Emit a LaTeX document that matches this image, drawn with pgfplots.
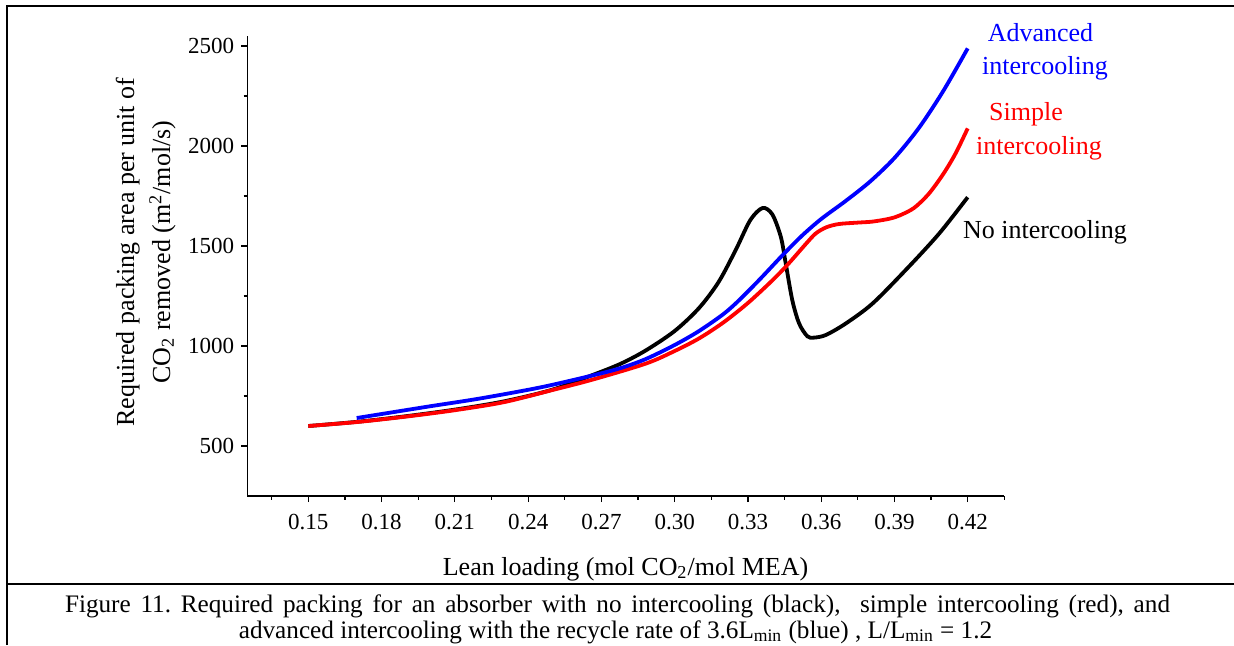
\documentclass[border=0pt]{standalone}
\usepackage{fontspec}
\setmainfont{Liberation Serif}
\usepackage{pgfplots}
\pgfplotsset{compat=1.18}
\frenchspacing

\begin{document}
\begin{tikzpicture}
\useasboundingbox (0,0) rectangle (617pt,322.5pt);
% frame and caption box
\draw[line width=1pt] (3.35pt,0) -- (3.35pt,319.5pt) -- (617pt,319.5pt);
\draw[line width=1pt] (3.35pt,30.75pt) -- (617pt,30.75pt);

\begin{axis}[
  at={(123.65pt,74.5pt)}, anchor=south west,
  scale only axis, width=378.5pt, height=230pt,
  xmin=0.125, xmax=0.435, ymin=250, ymax=2550,
  axis lines*=left,
  axis line style={line width=0.6pt},
  tick align=outside,
  major tick length=3pt, minor tick length=1.8pt,
  tick style={black, line width=0.6pt},
  xtick={0.15,0.18,0.21,0.24,0.27,0.30,0.33,0.36,0.39,0.42},
  xticklabels={0.15,0.18,0.21,0.24,0.27,0.30,0.33,0.36,0.39,0.42},
  minor xtick={0.135,0.165,0.195,0.225,0.255,0.285,0.315,0.345,0.375,0.405,0.435},
  ytick={500,1000,1500,2000,2500},
  yticklabels={500,1000,1500,2000,2500},
  minor ytick={750,1250,1750,2250},
  ticklabel style={font=\fontsize{11.5}{13}\selectfont},
  xticklabel style={yshift=-2.7pt},
  every axis plot/.append style={line width=1.9pt, smooth, tension=0.5, no marks},
]
% no intercooling
\addplot[black] coordinates {
(0.150,600) (0.170,621) (0.190,649) (0.210,682) (0.230,723) (0.250,782) (0.2664,855)
(0.278,912) (0.2882,978) (0.300,1075) (0.310,1190) (0.318,1320) (0.325,1480)
(0.331,1630) (0.336,1690) (0.340,1658) (0.3435,1545) (0.3455,1412) (0.3482,1228)
(0.351,1112) (0.3544,1048) (0.3571,1042) (0.3619,1055) (0.370,1112) (0.381,1212)
(0.395,1385) (0.4083,1562) (0.420,1744)};
% simple intercooling
\addplot[red] coordinates {
(0.150,600) (0.170,620) (0.190,647) (0.210,679) (0.230,719) (0.250,780) (0.2664,832)
(0.2882,912) (0.300,975) (0.310,1038) (0.320,1118) (0.330,1215) (0.340,1328)
(0.3465,1410) (0.3537,1510) (0.3578,1563) (0.3622,1594) (0.3673,1610) (0.375,1617)
(0.381,1622) (0.3878,1636) (0.392,1652) (0.398,1690) (0.404,1760) (0.410,1860)
(0.415,1962) (0.420,2088)};
% advanced intercooling
\addplot[blue] coordinates {
(0.1698,640) (0.180,660) (0.200,699) (0.220,737) (0.245,793) (0.2664,853)
(0.278,890) (0.2882,935) (0.300,1005) (0.310,1075) (0.320,1160) (0.3264,1229)
(0.335,1335) (0.3441,1453) (0.352,1550) (0.360,1635) (0.370,1725) (0.380,1822)
(0.390,1940) (0.400,2090) (0.410,2275) (0.420,2488)};
\end{axis}

% axis titles
\node[rotate=90, anchor=base, font=\fontsize{13}{15}\selectfont] at (67pt,196.5pt)
  {Required packing area per unit of};
\node[rotate=90, anchor=base, font=\fontsize{13}{15}\selectfont] at (85pt,196.5pt)
  {CO\textsubscript{2} removed (m\textsuperscript{2}/mol/s)};
\node[anchor=base, font=\fontsize{13}{15}\selectfont] at (312.75pt,35pt)
  {Lean loading (mol CO\textsubscript{2}/mol MEA)};

% curve labels
\begin{scope}[every node/.style={anchor=base, font=\fontsize{13}{15}\selectfont, inner sep=0pt}]
\node[blue] at (520.25pt,301.65pt) {Advanced};
\node[blue] at (522.5pt,285.5pt) {intercooling};
\node[red] at (513pt,262.15pt) {Simple};
\node[red] at (519.5pt,245.5pt) {intercooling};
\node[black] at (522.5pt,203.35pt) {No intercooling};
\end{scope}

% caption (first line justified)
\begin{scope}[every node/.style={anchor=base, font=\fontsize{12.6}{15}\selectfont, inner sep=0pt}]
\node at (308.75pt,16.5pt) {\hbox to 552.5pt{Figure 11. Required packing for an absorber with no intercooling (black), \ simple intercooling (red), and}};
\node at (307.75pt,3.5pt) {advanced intercooling with the recycle rate of 3.6L\textsubscript{min} (blue) , L/L\textsubscript{min} = 1.2};
\end{scope}
\end{tikzpicture}
\end{document}
